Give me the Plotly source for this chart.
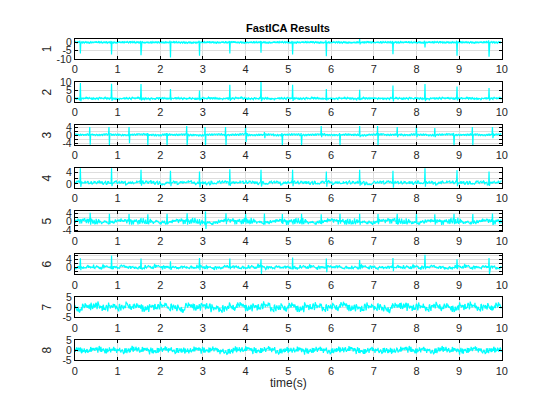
import numpy as np
import plotly.graph_objects as go

# ---------------- data ----------------
FS = 100  # samples per second
DURATION = 10.0

# maternal-like beat times (s) and fetal-like beat times (s)
MAT_T = [0.13, 0.86, 1.55, 2.24, 2.92, 3.63, 4.36, 5.10, 5.89, 6.67, 7.45, 8.20, 8.95, 9.70]
FET_T = [0.36, 0.81, 1.27, 1.71, 2.16, 2.63, 3.06, 3.54, 4.00, 4.44, 4.86, 5.31, 5.77,
         6.21, 6.67, 7.10, 7.55, 8.00, 8.43, 8.88, 9.32, 9.78]

CH1_UP = [1.0, 0.8, 0.8, 1.0, 1.0, 0.8, 0.8, 0.8, 1.2, 2.0, 0.8, 1.0, 1.0, 1.2]
CH1_DN = [-6.6, -7.2, -7.6, -9.0, -8.0, -6.6, -6.2, -7.2, -8.2, -1.2, -7.0, -3.0, -8.0, -8.6]

CH2_UP = [9.4, 9.0, 8.8, 5.8, 5.0, 8.4, 10.5, 8.4, 5.8, 5.4, 8.0, 8.8, 7.4, 6.4]
CH2_DN = [-1.5, -1.2, -1.0, -0.8, -1.0, -1.2, -1.5, -1.3, -1.0, -0.8, -1.6, -1.4, -1.0, -1.0]

CH3_UP = [4.0, 4.0, 4.0, 1.0, 1.0, 4.5, 4.0, 4.0, 4.5, 1.5, 1.0, 1.0, 4.5, 1.0, 4.5, 4.5,
          4.0, 4.5, 3.5, 1.0, 4.0, 4.0]
CH3_DN = [-4.8, -5.0, -4.0, -5.0, -5.0, -5.0, -5.0, -5.0, -3.5, -1.5, -5.0, -5.0, -1.0,
          -5.0, -1.0, -5.0, -1.0, -1.0, -1.0, -5.0, -5.0, -1.5]

CH4_UP = [5.5, 5.5, 4.9, 4.6, 4.3, 5.1, 4.9, 4.9, 4.3, 4.9, 4.6, 5.5, 4.8, 4.3]
CH4_DN = [-1.0, -0.8, -0.6, -0.8, -1.2, -0.7, -0.9, -0.8, -1.0, -0.6, -1.3, -1.0, -0.8, -0.7]

CH5_UP = [4.2, 3.8, 3.6, 3.5, 3.7, 4.0, 5.0, 4.0, 3.8, 3.9, 3.6, 3.8, 3.5, 3.8, 3.7, 3.6,
          3.8, 4.0, 3.5, 3.8, 3.6, 3.9]
CH5_DN = [-1.5, -1.2, -1.4, -1.0, -1.3, -1.5, -3.5, -1.2, -1.0, -1.4, -1.1, -1.3, -1.2,
          -1.0, -1.5, -1.2, -1.3, -1.1, -1.4, -1.2, -1.0, -1.3]

CH6_UP = [4.5, 5.8, 4.3, 3.0, 4.6, 4.3, 4.0, 4.8, 4.3, 3.6, 4.6, 6.2, 4.0, 4.6]
CH6_DN = [-1.5, -1.0, -1.0, -1.0, -1.5, -1.0, -3.3, -1.0, -2.5, -1.0, -2.0, -1.0, -1.0, -3.3]

NOISE = [0.12, -0.35, 0.48, -0.10, 0.27, -0.62, 0.05, 0.39, -0.22, 0.71, -0.48, 0.16, -0.05,
         0.55, -0.31, -0.78, 0.22, 0.09, -0.41, 0.63, -0.18, 0.34, -0.57, 0.02, 0.44, -0.26,
         0.81, -0.12, -0.66, 0.30, 0.07, -0.39, 0.52, -0.20, 0.14, -0.85, 0.36, 0.60, -0.08,
         -0.29, 0.47, -0.53, 0.19, 0.03, -0.71, 0.40, -0.15, 0.58, -0.34, 0.25, -0.02, 0.69,
         -0.44, 0.11, -0.60, 0.33, 0.90, -0.24, -0.47, 0.17, 0.06, -0.37, 0.50, -0.13, 0.28,
         -0.74, 0.42, -0.06, 0.65, -0.28, -0.51, 0.23, 0.10, -0.42, 0.75, -0.19, 0.31, -0.58,
         0.00, 0.46, -0.25, 0.84, -0.09, -0.69, 0.29, 0.08, -0.36, 0.54, -0.21, 0.15, -0.88,
         0.38, 0.57, -0.07, -0.32, 0.49, -0.55, 0.18, 0.04, -0.73, 0.41, -0.16, 0.61, -0.33,
         0.26, -0.01, 0.67, -0.45, 0.13, -0.63, 0.35, 0.93, -0.23, -0.49, 0.20, 0.05, -0.40,
         0.53, -0.11, 0.24, -0.30]

WANDER = [0.3, -0.2, 0.5, 0.1, -0.4, 0.2, 0.6, -0.1, -0.5, 0.3, 0.0, 0.4, -0.3, -0.6, 0.2,
          0.5, -0.2, 0.1, 0.7, -0.4, -0.1, 0.3, -0.5, 0.2, 0.4, -0.3, 0.1, 0.6, -0.2, -0.4,
          0.3, 0.0, -0.6, 0.2, 0.5, -0.1, 0.3, -0.3, 0.4, 0.1, -0.5, 0.2, 0.6, -0.2, 0.0,
          0.4, -0.4, 0.1, 0.5, -0.1]

CHANNEL_LABELS = ["1", "2", "3", "4", "5", "6", "7", "8"]
X_TICKS = [0, 1, 2, 3, 4, 5, 6, 7, 8, 9, 10]

# per channel: (baseline, noise scale, noise stride, noise offset, wander scale, events)
CHANNELS = [
    (0.0, 0.75, 1, 0, 0.2, [(MAT_T, CH1_UP, CH1_DN)]),
    (0.2, 0.85, 7, 13, 0.3, [(MAT_T, CH2_UP, CH2_DN)]),
    (0.0, 0.80, 11, 29, 0.4, [(FET_T, CH3_UP, CH3_DN)]),
    (0.4, 0.75, 13, 41, 0.4, [(MAT_T, CH4_UP, CH4_DN)]),
    (0.0, 1.60, 17, 53, 0.6, [(FET_T, CH5_UP, CH5_DN)]),
    (0.0, 1.10, 19, 67, 0.6, [(MAT_T, CH6_UP, CH6_DN)]),
    (0.0, 2.30, 23, 79, 1.5, []),
    (0.0, 1.90, 29, 97, 0.9, []),
]

Y_RANGES = [[-10, 2], [-2, 10], [-5, 5], [-1.5, 5.5], [-4.6, 5], [-3.5, 6.5], [-5, 5], [-5, 5]]
Y_TICKVALS = [[-10, -5, 0], [0, 5, 10], [-4, -2, 0, 2, 4], [0, 2, 4], [-4, -2, 0, 2, 4],
              [-2, 0, 2, 4, 6], [-5, 0, 5], [-5, 0, 5]]
Y_TICKTEXT = [["-10", "-5", "0"], ["0", "5", "10"], ["-4", "", "0", "", "4"], ["0", "", "4"],
              ["-4", "", "0", "", "4"], ["", "0", "", "4", ""], ["-5", "0", "5"], ["-5", "0", "5"]]

# ---------------- build signals ----------------
n = int(DURATION * FS)
t = np.arange(n) / FS
noise_arr = np.array(NOISE)
N = len(noise_arr)
wander_arr = np.repeat(np.array(WANDER), int(np.ceil(n / len(WANDER))))[:n]


def build(base, scale, stride, off, wscale, events, ci):
    idx = (np.arange(n) * stride + off) % N
    y = base + scale * noise_arr[idx] + wscale * np.roll(wander_arr, ci * 13)
    for times, ups, dns in events:
        for tt, up, dn in zip(times, ups, dns):
            i = int(round(tt * FS))
            if abs(dn) > abs(up):
                if i - 1 >= 0:
                    y[i - 1] = up
                y[i] = dn
            else:
                y[i] = up
                if i + 1 < n:
                    y[i + 1] = dn
    return y


# ---------------- layout geometry (pixels) ----------------
W, H = 560, 420
X0, X1 = 73, 507
TOP0, STEP, AH = 34, 44.3, 20.7

fig = go.Figure()
font = dict(family="Liberation Sans, Arial, sans-serif", size=11, color="#262626")
yfont = dict(family="Liberation Sans, Arial, sans-serif", size=10.5, color="#262626")
layout = dict(width=W, height=H, margin=dict(l=0, r=0, t=0, b=0),
              paper_bgcolor="white", plot_bgcolor="white", showlegend=False,
              font=font)
annotations = []

for k, (base, scale, stride, off, wscale, events) in enumerate(CHANNELS):
    y = build(base, scale, stride, off, wscale, events, k)
    s = "" if k == 0 else str(k + 1)
    fig.add_trace(go.Scatter(x=t, y=y, mode="lines", line=dict(color="#00FFFF", width=1.2),
                             xaxis="x" + s, yaxis="y" + s, hoverinfo="skip"))
    top = TOP0 + STEP * k
    bot = top + AH
    common = dict(showline=True, linecolor="black", linewidth=1, mirror="ticks",
                  ticks="inside", tickcolor="black", ticklen=3, showgrid=True,
                  gridcolor="#dedede", gridwidth=1, zeroline=False)
    layout["xaxis" + s] = dict(domain=[X0 / W, X1 / W], anchor="y" + s, range=[0, 10],
                               tickvals=X_TICKS, ticktext=[str(v) for v in X_TICKS],
                               tickfont=font, **common)
    layout["yaxis" + s] = dict(domain=[1 - bot / H, 1 - top / H], anchor="x" + s,
                               range=Y_RANGES[k], tickvals=Y_TICKVALS[k],
                               ticktext=Y_TICKTEXT[k], tickfont=yfont, **common)
    annotations.append(dict(text=CHANNEL_LABELS[k], x=45 / W, y=1 - (top + AH / 2) / H,
                            xref="paper", yref="paper", showarrow=False, textangle=-90,
                            font=dict(family="Liberation Sans, Arial", size=12, color="#262626"),
                            xanchor="center", yanchor="middle"))

annotations.append(dict(text="<b>FastICA Results</b>", x=(X0 + X1) / 2 / W, y=1 - 23 / H,
                        xref="paper", yref="paper", showarrow=False,
                        font=dict(family="Liberation Sans, Arial", size=11, color="black"),
                        xanchor="center", yanchor="middle"))
annotations.append(dict(text="time(s)", x=(X0 + X1) / 2 / W, y=1 - 388 / H,
                        xref="paper", yref="paper", showarrow=False,
                        font=dict(family="Liberation Sans, Arial", size=12, color="#262626"),
                        xanchor="center", yanchor="middle"))
layout["annotations"] = annotations
fig.update_layout(**layout)
fig.write_html("out.html")
